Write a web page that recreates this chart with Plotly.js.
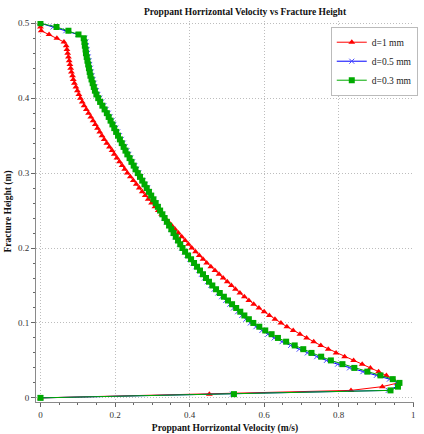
<!DOCTYPE html>
<html>
<head>
<meta charset="utf-8">
<script src="https://cdn.plot.ly/plotly-3.0.1.min.js"></script>
<style>html,body{margin:0;padding:0;background:#fff;}#chart{width:424px;height:434px;}</style>
</head>
<body>
<div id="chart"></div>
<script>
// Fracture height (m), ascending
const heights = [0.000,0.005,0.010,0.015,0.020,0.025,0.030,0.035,0.040,0.045,
0.050,0.055,0.060,0.065,0.070,0.075,0.080,0.085,0.090,0.095,
0.100,0.105,0.110,0.115,0.120,0.125,0.130,0.135,0.140,0.145,
0.150,0.155,0.160,0.165,0.170,0.175,0.180,0.185,0.190,0.195,
0.200,0.205,0.210,0.215,0.220,0.225,0.230,0.235,0.240,0.245,
0.250,0.255,0.260,0.265,0.270,0.275,0.280,0.285,0.290,0.295,
0.300,0.305,0.310,0.315,0.320,0.325,0.330,0.335,0.340,0.345,
0.350,0.355,0.360,0.365,0.370,0.375,0.380,0.385,0.390,0.395,
0.400,0.405,0.410,0.415,0.420,0.425,0.430,0.435,0.440,0.445,
0.450,0.455,0.460,0.465,0.470,0.475,0.480,0.485,0.490,0.495,0.500];

// Proppant horizontal velocity (m/s), d = 1 mm
const vel_d1 = [0.000,0.453,0.833,0.917,0.960,0.946,0.928,0.907,0.885,0.863,
0.840,0.816,0.793,0.772,0.752,0.733,0.714,0.696,0.678,0.661,
0.645,0.629,0.614,0.600,0.586,0.572,0.559,0.547,0.535,0.523,
0.512,0.501,0.490,0.479,0.468,0.457,0.446,0.436,0.426,0.416,
0.406,0.397,0.388,0.379,0.370,0.361,0.352,0.343,0.334,0.325,
0.316,0.307,0.298,0.289,0.281,0.273,0.265,0.257,0.249,0.241,
0.233,0.226,0.219,0.212,0.205,0.198,0.192,0.185,0.178,0.171,
0.165,0.159,0.153,0.147,0.141,0.135,0.129,0.123,0.117,0.112,
0.107,0.103,0.099,0.095,0.091,0.088,0.086,0.083,0.081,0.079,
0.077,0.075,0.073,0.071,0.069,0.063,0.044,0.023,0.002,0.000,0.000];

// d = 0.5 mm
const vel_d05 = [0.000,0.515,0.933,0.955,0.958,0.936,0.901,0.865,0.829,0.797,
0.767,0.741,0.716,0.694,0.671,0.648,0.627,0.610,0.594,0.578,
0.563,0.551,0.540,0.529,0.518,0.508,0.497,0.486,0.476,0.466,
0.457,0.448,0.440,0.432,0.425,0.417,0.409,0.401,0.393,0.386,
0.379,0.373,0.367,0.361,0.355,0.350,0.344,0.338,0.332,0.327,
0.321,0.315,0.310,0.304,0.298,0.292,0.287,0.281,0.275,0.269,
0.264,0.258,0.253,0.247,0.242,0.237,0.232,0.227,0.222,0.217,
0.212,0.207,0.202,0.197,0.192,0.187,0.182,0.176,0.170,0.164,
0.159,0.154,0.150,0.147,0.144,0.141,0.138,0.136,0.134,0.132,
0.130,0.128,0.126,0.125,0.123,0.122,0.119,0.100,0.068,0.034,0.000];

// d = 0.3 mm
const vel_d03 = [0.000,0.519,0.939,0.959,0.963,0.945,0.912,0.877,0.842,0.810,
0.779,0.753,0.727,0.705,0.682,0.659,0.637,0.620,0.603,0.587,
0.571,0.559,0.547,0.536,0.525,0.514,0.503,0.492,0.481,0.471,
0.461,0.452,0.444,0.436,0.428,0.420,0.412,0.404,0.396,0.388,
0.381,0.375,0.369,0.363,0.357,0.351,0.345,0.339,0.333,0.327,
0.321,0.315,0.309,0.303,0.297,0.291,0.285,0.279,0.273,0.267,
0.261,0.255,0.250,0.244,0.239,0.233,0.228,0.223,0.218,0.213,
0.208,0.203,0.198,0.193,0.188,0.183,0.178,0.172,0.166,0.160,
0.155,0.150,0.146,0.143,0.140,0.137,0.134,0.132,0.130,0.128,
0.126,0.124,0.122,0.121,0.119,0.118,0.116,0.102,0.075,0.043,0.000];

const seriesNames = ['d=1 mm','d=0.5 mm','d=0.3 mm'];
const xTickVals = [0,0.2,0.4,0.6,0.8,1];
const xTickText = ['0','0.2','0.4','0.6','0.8','1'];
const yTickVals = [0,0.1,0.2,0.3,0.4,0.5];
const yTickText = ['0','0.1','0.2','0.3','0.4','0.5'];

const serif = 'Liberation Serif, Times New Roman, serif';

const traces = [
  {x: vel_d1, y: heights, name: seriesNames[0], type: 'scatter', mode: 'lines+markers',
   line: {color: '#ff0000', width: 1},
   marker: {symbol: 'triangle-up', size: 6, color: '#ff0000'}},
  {x: vel_d05, y: heights, name: seriesNames[1], type: 'scatter', mode: 'lines+markers',
   line: {color: '#0000ff', width: 1},
   marker: {symbol: 'x-thin-open', size: 5, color: '#4a4aff', line: {color: '#4a4aff', width: 1}}},
  {x: vel_d03, y: heights, name: seriesNames[2], type: 'scatter', mode: 'lines+markers',
   line: {color: '#00aa00', width: 1},
   marker: {symbol: 'square', size: 6, color: '#00aa00'}}
];

const axisCommon = {
  showline: true, linecolor: '#8a8a8a', linewidth: 1,
  ticks: 'outside', ticklen: 4, tickcolor: '#666', tickwidth: 1,
  showgrid: true, gridcolor: '#bdbdbd', griddash: '1px,2px', gridwidth: 1,
  zeroline: false,
  tickfont: {family: serif, size: 9, color: '#333'}
};

const layout = {
  width: 424, height: 434,
  margin: {l: 36, r: 6, t: 21, b: 32},
  paper_bgcolor: '#fff', plot_bgcolor: '#fff',
  title: {text: '<b>Proppant Horrizontal Velocity vs Fracture Height</b>',
    font: {family: serif, size: 9.5, color: '#111'},
    x: 0.553, xref: 'paper', xanchor: 'center', y: 0.98, yref: 'container', yanchor: 'top'},
  xaxis: Object.assign({}, axisCommon, {
    range: [-0.012, 1.002], tickvals: xTickVals, ticktext: xTickText,
    minor: {dtick: 0.05, ticks: 'outside', ticklen: 2, tickcolor: '#666', showgrid: false},
    title: {text: '<b>Proppant Horrizontal Velocity (m/s)</b>', font: {family: serif, size: 9.5, color: '#111'}, standoff: 5}
  }),
  yaxis: Object.assign({}, axisCommon, {
    range: [-0.0055, 0.503], tickvals: yTickVals, ticktext: yTickText,
    minor: {dtick: 0.02, ticks: 'outside', ticklen: 2, tickcolor: '#666', showgrid: false},
    title: {text: '<b>Fracture Height (m)</b>', font: {family: serif, size: 9.5, color: '#111'}, standoff: 4}
  }),
  legend: {x: 1.01, xanchor: 'right', y: 0.985, yanchor: 'top',
    bgcolor: '#fff', bordercolor: '#bbb', borderwidth: 1, itemwidth: 30,
    tracegroupgap: 0,
    font: {family: serif, size: 9.5, color: '#222'}},
  showlegend: true
};

Plotly.newPlot('chart', traces, layout, {displayModeBar: false, staticPlot: true});
</script>
</body>
</html>
